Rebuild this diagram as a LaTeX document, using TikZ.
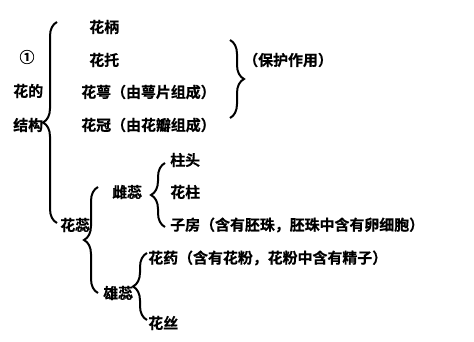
\documentclass[tikz,border=0pt]{standalone}
\usepackage{fontspec}
\newfontfamily\cjk{Noto Sans CJK SC}[BoldFont={Noto Sans CJK SC Bold}, BoldFeatures={FakeBold=0.6}]
\usetikzlibrary{decorations.pathreplacing}

\begin{document}
\begin{tikzpicture}[x=0.75pt, y=-0.75pt,
    every node/.style={font=\cjk\bfseries\fontsize{11.2pt}{13pt}\selectfont, inner sep=0pt, anchor=west},
    kuohao/.style={decorate, decoration={brace, amplitude=10.5pt}, line width=1.5pt}]
    \useasboundingbox (0,0) rectangle (474,342);

    % 花的结构
    \node[anchor=center] (hao) at (27,57) {①};
    \node (huade) at (13,91) {花的};
    \node (jiegou) at (13,125) {结构};
    \coordinate (da1) at (57,22);
    \coordinate (da2) at (57,223);
    \draw[kuohao] (da2) -- (da1);

    % 花柄 花托 花萼 花冠
    \node (huabing) at (89,27) {花柄};
    \node (huatuo) at (89,60) {花托};
    \node (huae) at (81,92) {花萼（由萼片组成）};
    \node (huaguan) at (81,125) {花冠（由花瓣组成）};
    \coordinate (bh1) at (230,40);
    \coordinate (bh2) at (230,118);
    \draw[kuohao] (bh1) -- (bh2);
    \node (baohu) at (243,60) {（保护作用）};

    % 花蕊
    \node (huarui) at (60,225) {花蕊};
    \coordinate (hr1) at (98,187);
    \coordinate (hr2) at (98,293);
    \draw[kuohao] (hr2) -- (hr1);

    % 雌蕊
    \node (cirui) at (112,192) {雌蕊};
    \coordinate (cr1) at (165,163);
    \coordinate (cr2) at (165,227);
    \draw[kuohao] (cr2) -- (cr1);
    \node (zhutou) at (170,160) {柱头};
    \node (huazhu) at (170,192) {花柱};
    \node (zifang) at (170,225) {子房（含有胚珠，胚珠中含有卵细胞）};

    % 雄蕊
    \node (xiongrui) at (103,293) {雄蕊};
    \coordinate (xr1) at (147,253);
    \coordinate (xr2) at (147,320);
    \draw[kuohao] (xr2) -- (xr1);
    \node (huayao) at (148,258) {花药（含有花粉，花粉中含有精子）};
    \node (huasi) at (148,323) {花丝};
\end{tikzpicture}
\end{document}
